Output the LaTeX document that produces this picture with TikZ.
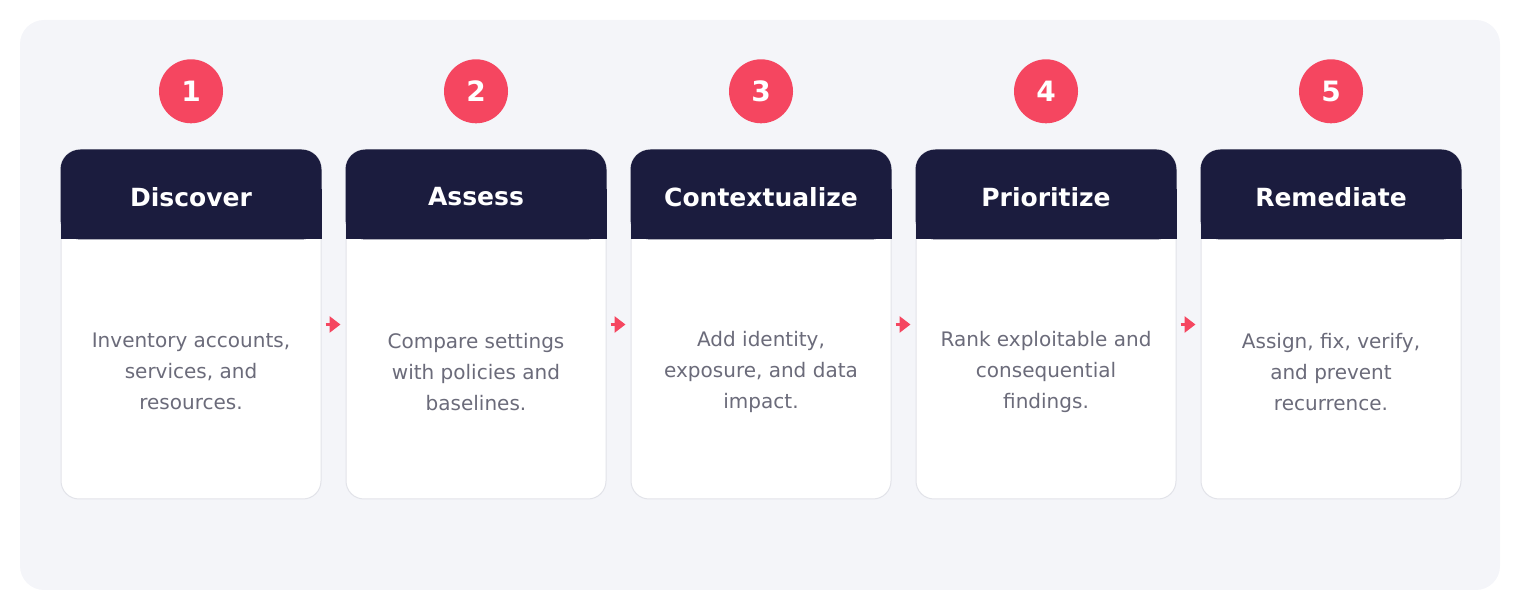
\documentclass[tikz,border=0pt]{standalone}
\usepackage{fontspec}
\setmainfont{DejaVu Sans}
\usetikzlibrary{arrows.meta, positioning}
\definecolor{panelbg}{RGB}{244,245,249}
\definecolor{navy}{RGB}{27,28,62}
\definecolor{badgered}{RGB}{245,70,96}
\definecolor{bodygray}{RGB}{107,107,122}
\definecolor{cardline}{RGB}{226,227,233}
\tikzstyle{cardbox} = [
	rectangle,
	minimum width=260pt,
	minimum height=349pt,
	rounded corners=18pt,
	fill=white,
	draw=cardline,
	line width=1pt,
]
\tikzstyle{headfill} = [fill=navy]
\tikzstyle{headtext} = [
	minimum height=90pt,
	text=white,
	font=\bfseries\fontsize{25}{29}\selectfont,
]
\tikzstyle{desc} = [
	minimum height=259pt,
	align=center,
	text=bodygray,
	font=\fontsize{20}{31}\selectfont,
]
\tikzstyle{badge} = [
	circle,
	minimum size=64pt,
	inner sep=0pt,
	fill=badgered,
	text=white,
	font=\bfseries\fontsize{28}{32}\selectfont,
]
\tikzstyle{arrow} = [line width=3pt, draw=badgered, -{Triangle[length=11pt,width=16pt]}, shorten <=4pt, shorten >=5pt]

\begin{document}
\begin{tikzpicture}[x=1pt, y=1pt]
		\useasboundingbox (0,0) rectangle (1520,610);
		\fill [panelbg, rounded corners=24pt] (20,20) rectangle (1500,590);

		\node (card1) [cardbox] at (191,285.5) {};
		\node (card2) [cardbox, right=24pt of card1] {};
		\node (card3) [cardbox, right=24pt of card2] {};
		\node (card4) [cardbox, right=24pt of card3] {};
		\node (card5) [cardbox, right=24pt of card4] {};

		% dark header bands, square at the bottom
		\fill [headfill, rounded corners=20pt] (card1.north west) rectangle ([yshift=-90pt]card1.north east);
		\fill [headfill] ([yshift=-40pt]card1.north west) rectangle ([yshift=-90pt]card1.north east);
		\fill [headfill, rounded corners=20pt] (card2.north west) rectangle ([yshift=-90pt]card2.north east);
		\fill [headfill] ([yshift=-40pt]card2.north west) rectangle ([yshift=-90pt]card2.north east);
		\fill [headfill, rounded corners=20pt] (card3.north west) rectangle ([yshift=-90pt]card3.north east);
		\fill [headfill] ([yshift=-40pt]card3.north west) rectangle ([yshift=-90pt]card3.north east);
		\fill [headfill, rounded corners=20pt] (card4.north west) rectangle ([yshift=-90pt]card4.north east);
		\fill [headfill] ([yshift=-40pt]card4.north west) rectangle ([yshift=-90pt]card4.north east);
		\fill [headfill, rounded corners=20pt] (card5.north west) rectangle ([yshift=-90pt]card5.north east);
		\fill [headfill] ([yshift=-40pt]card5.north west) rectangle ([yshift=-90pt]card5.north east);

		\node (head1) [headtext, below=0pt of card1.north, yshift=-2pt] {Discover};
		\node (head2) [headtext, below=0pt of card2.north, yshift=-2pt] {Assess};
		\node (head3) [headtext, below=0pt of card3.north, yshift=-2pt] {Contextualize};
		\node (head4) [headtext, below=0pt of card4.north, yshift=-2pt] {Prioritize};
		\node (head5) [headtext, below=0pt of card5.north, yshift=-2pt] {Remediate};

		\node (desc1) [desc, below=0pt of head1] {Inventory accounts,\\services, and\\resources.};
		\node (desc2) [desc, below=0pt of head2] {Compare settings\\with policies and\\baselines.};
		\node (desc3) [desc, below=0pt of head3] {Add identity,\\exposure, and data\\impact.};
		\node (desc4) [desc, below=0pt of head4] {Rank exploitable and\\consequential\\findings.};
		\node (desc5) [desc, below=0pt of head5] {Assign, fix, verify,\\and prevent\\recurrence.};

		\node (num1) [badge, above=26pt of card1] {1};
		\node (num2) [badge, above=26pt of card2] {2};
		\node (num3) [badge, above=26pt of card3] {3};
		\node (num4) [badge, above=26pt of card4] {4};
		\node (num5) [badge, above=26pt of card5] {5};

		\draw [arrow] (card1) -- (card2);
		\draw [arrow] (card2) -- (card3);
		\draw [arrow] (card3) -- (card4);
		\draw [arrow] (card4) -- (card5);
	\end{tikzpicture}
\end{document}
